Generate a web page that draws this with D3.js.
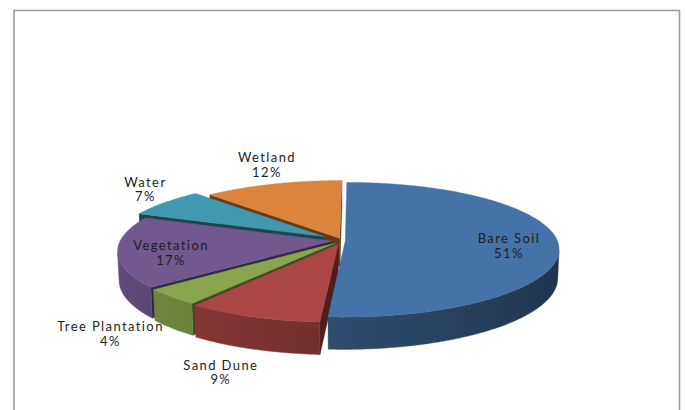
<!DOCTYPE html>
<html>
<head>
<meta charset="utf-8">
<script src="https://cdn.jsdelivr.net/npm/d3@7"></script>
<style>
  html, body { margin: 0; padding: 0; background: #ffffff; }
  svg { display: block; }
  .lbl { font-family: Lato, "Liberation Sans", sans-serif; font-size: 13px; letter-spacing: 1.4px; fill: #1e1e1e; }
</style>
</head>
<body>
<svg id="chart" width="685" height="410"></svg>
<script>
// Land cover shares (percent), in drawing order clockwise from 12 o'clock
const categories = ["Bare Soil", "Sand Dune", "Tree Plantation", "Vegetation", "Water", "Wetland"];
const shares = [51, 9, 4, 17, 7, 12];
const percentLabels = ["51%", "9%", "4%", "17%", "7%", "12%"];

// ---- styling ----
const topColors = ["#4572A7", "#AA4643", "#89A54E", "#71588F", "#4198AF", "#DB843D"];
const explode = [0.012, 0.06, 0.05, 0.05, 0.11, 0.04];      // pull-out per slice, as a fraction of radius
const labelRadius = [0.77, 1.33, 1.33, 0.755, 1.12, 1.15];  // where each label sits along its slice bisector
const labelNudge = [[0, 3.5], [2.6, 26.5], [2, 16.4], [0, 3.5], [-1.5, -9.6], [3, -12.3]];

// camera: tilt above the table, distance in pie radii, slight sideways offset
const view = { cx: 357.6, cy: 240.6, K: 212, tilt: 18.17 * Math.PI / 180, dist: 7, camX: 0.07, height: 0.142 };
const sa = Math.sin(view.tilt), ca = Math.cos(view.tilt);
const cam = [view.camX, view.dist * sa, view.dist * ca];

// perspective projection of a point on the unit pie: x right, y up, z toward the viewer
function project(x, y, z) {
  const v = z * sa - y * ca;
  const w = z * ca + y * sa;
  const s = view.dist / (view.dist - w);
  return [view.cx + view.K * s * (x - view.camX), view.cy + view.K * s * v];
}

// brightness of a side face whose outward normal points at angle t (0 = back, pi/2 = right)
const shade = t => 0.66 + 0.2 * Math.sin(t - Math.PI);
const tint = (c, k) => { const b = d3.rgb(c); return d3.rgb(b.r * k, b.g * k, b.b * k).formatHex(); };

const svg = d3.select("#chart");

// chart frame
svg.append("rect")
  .attr("x", 14).attr("y", 10.5).attr("width", 665.5).attr("height", 420)
  .attr("fill", "none").attr("stroke", "#9c9c9c").attr("stroke-width", 1.6);

const pie = d3.pie().sort(null).value(d => d).startAngle(0).endAngle(2 * Math.PI);
const arcs = pie(shares);

const slices = arcs.map((a, i) => {
  const mid = (a.startAngle + a.endAngle) / 2;
  const e = explode[i];
  return { i, a0: a.startAngle, a1: a.endAngle, mid,
           ox: e * Math.sin(mid), oz: -e * Math.cos(mid) };
});

const rim = (s, t, r, y) => project(s.ox + r * Math.sin(t), y, s.oz - r * Math.cos(t));
const line = d3.line();
const H = view.height;
const defs = svg.append("defs");

function sampleAngles(a0, a1) {
  const n = Math.max(2, Math.ceil((a1 - a0) / (Math.PI / 360)));
  return d3.range(n + 1).map(k => a0 + (a1 - a0) * k / n);
}

// visibility of the curved outer wall at angle t
function wallFacing(s, t) {
  const st = Math.sin(t), ct = Math.cos(t);
  return (cam[0] - s.ox) * st + s.oz * ct - 1 - cam[2] * ct > 0;
}
// visibility of a cut face at angle t (sign +1 for the end face, -1 for the start face)
function cutFacing(s, t, sign) {
  const n = [sign * Math.cos(t), 0, sign * Math.sin(t)];
  const d = [cam[0] - s.ox, cam[1], cam[2] - s.oz];
  return d[0] * n[0] + d[1] * n[1] + d[2] * n[2] > 0;
}

const wallLayer = svg.append("g");
const topLayer = svg.append("g");
const labelLayer = svg.append("g");

// back-to-front order for the side walls
const order = slices.slice().sort((p, q) => (-Math.cos(p.mid) + p.oz) - (-Math.cos(q.mid) + q.oz));

order.forEach(s => {
  const base = topColors[s.i];
  const g = wallLayer.append("g");

  // cut faces
  [[s.a0, -1], [s.a1, 1]].forEach(([t, sign]) => {
    if (!cutFacing(s, t, sign)) return;
    const pts = [project(s.ox, 0, s.oz), rim(s, t, 1, 0), rim(s, t, 1, -H), project(s.ox, -H, s.oz)];
    const c = tint(base, 0.45);
    g.append("path").attr("d", line(pts) + "Z")
      .attr("fill", c).attr("stroke", c).attr("stroke-width", 0.4);
  });

  // curved outer wall, lit from the front-left
  const vis = sampleAngles(s.a0, s.a1).filter(t => wallFacing(s, t));
  if (vis.length > 1) {
    const topPts = vis.map(t => rim(s, t, 1, 0));
    const botPts = vis.map(t => rim(s, t, 1, -H)).reverse();
    const xs = topPts.map(p => p[0]);
    const x0 = d3.min(xs), x1 = d3.max(xs);
    const gid = "wall" + s.i;
    const grad = defs.append("linearGradient").attr("id", gid)
      .attr("gradientUnits", "userSpaceOnUse")
      .attr("x1", x0).attr("x2", x1).attr("y1", 0).attr("y2", 0);
    const step = Math.max(1, Math.floor(vis.length / 8));
    const stops = vis.map((t, k) => ({ t, off: (xs[k] - x0) / (x1 - x0 || 1), k }))
      .filter(d => d.k % step === 0 || d.k === vis.length - 1)
      .sort((a, b) => a.off - b.off);
    stops.forEach(d => grad.append("stop").attr("offset", d.off).attr("stop-color", tint(base, shade(d.t))));
    g.append("path").attr("d", line(topPts.concat(botPts)) + "Z")
      .attr("fill", `url(#${gid})`).attr("stroke", `url(#${gid})`).attr("stroke-width", 0.4);
  }
});

// top faces
order.forEach(s => {
  const pts = [project(s.ox, 0, s.oz)].concat(sampleAngles(s.a0, s.a1).map(t => rim(s, t, 1, 0)));
  topLayer.append("path").attr("d", line(pts) + "Z")
    .attr("fill", topColors[s.i]).attr("stroke", topColors[s.i]).attr("stroke-width", 0.4);
});

// data labels
slices.forEach(s => {
  const r = labelRadius[s.i];
  const p = project(s.ox + r * Math.sin(s.mid), 0, s.oz - r * Math.cos(s.mid));
  const x = p[0] + labelNudge[s.i][0], y = p[1] + labelNudge[s.i][1];
  const t = labelLayer.append("text").attr("class", "lbl").attr("text-anchor", "middle")
    .attr("x", x).attr("y", y);
  t.append("tspan").attr("x", x).attr("dy", "-0.2em").text(categories[s.i]);
  t.append("tspan").attr("x", x).attr("dy", "1.12em").text(percentLabels[s.i]);
});
</script>
</body>
</html>
